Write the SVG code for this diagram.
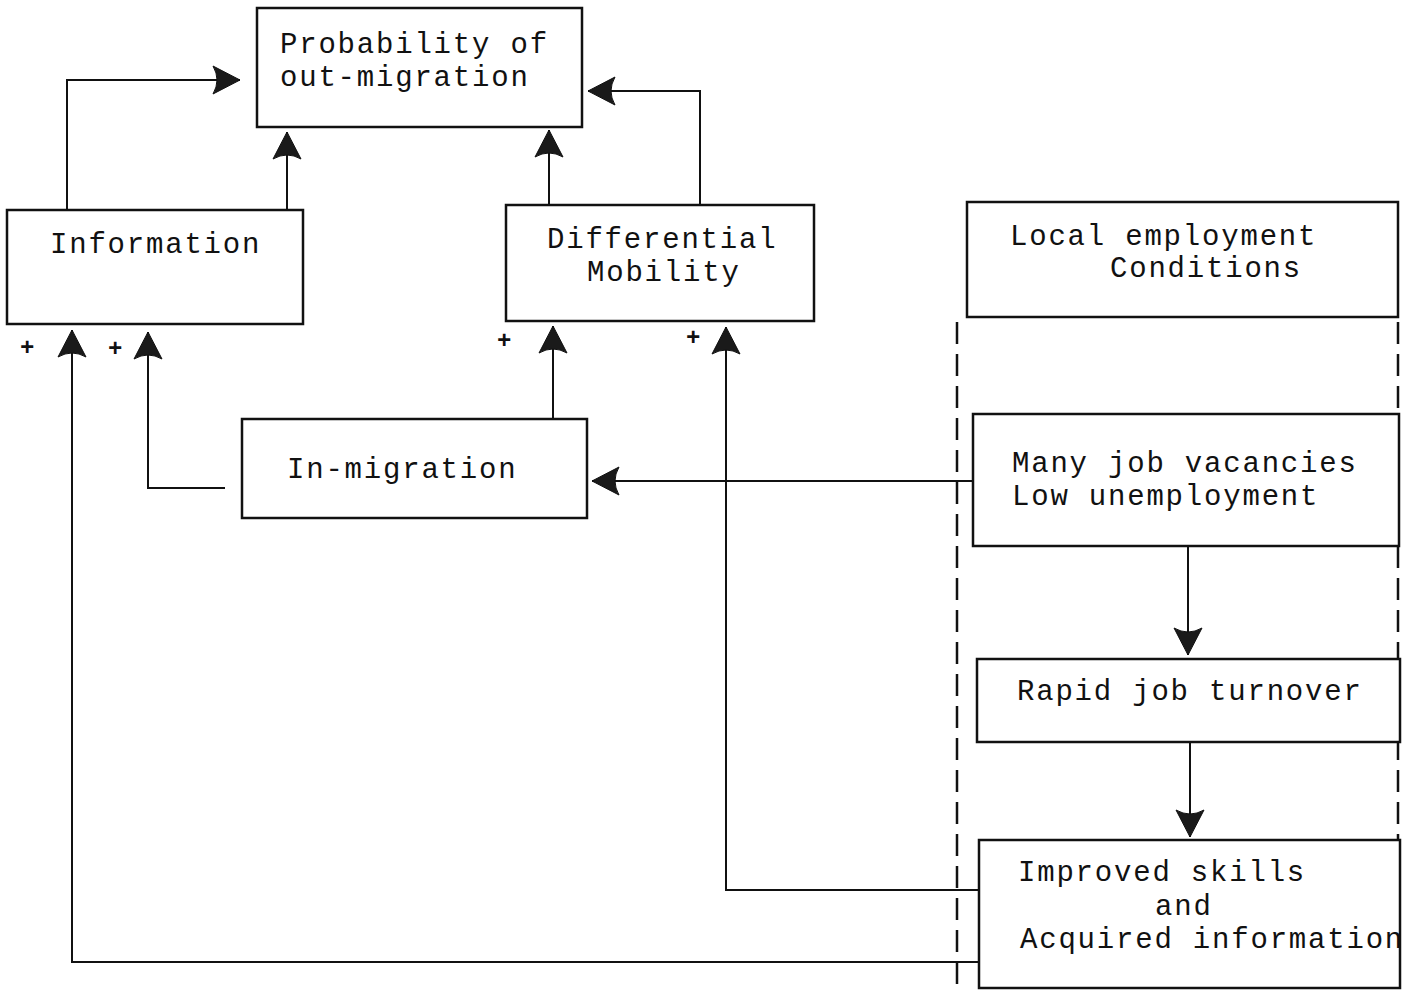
<svg xmlns="http://www.w3.org/2000/svg" width="1405" height="991" viewBox="0 0 1405 991">
<style>
.box{fill:#fff;stroke:#111;stroke-width:2.5}
.t{font-family:"Liberation Mono","Courier New",monospace;font-size:29px;letter-spacing:1.8px;fill:#111}
.c{fill:none;stroke:#111;stroke-width:2}
.d{fill:none;stroke:#111;stroke-width:2.5;stroke-dasharray:22 10}
.p{font-family:"Liberation Mono","Courier New",monospace;font-size:24px;font-weight:bold;fill:#111}
</style>
<defs>
<marker id="ah" markerUnits="userSpaceOnUse" markerWidth="32" markerHeight="32" viewBox="-30 -16 32 32" refX="0" refY="0" orient="auto">
<path d="M0,0 L-27,-14 Q-19,0 -27,14 Z" fill="#1a1a1a" stroke="#111" stroke-width="1"/>
</marker>
</defs>
<rect width="1405" height="991" fill="#fff"/>
<g id="connectors">
<path class="c" d="M67,210 V80 H240" marker-end="url(#ah)"/>
<path class="c" d="M287,210 V132" marker-end="url(#ah)"/>
<path class="c" d="M549,205 V130" marker-end="url(#ah)"/>
<path class="c" d="M700,205 V91 H588" marker-end="url(#ah)"/>
<path class="c" d="M553,419 V326" marker-end="url(#ah)"/>
<path class="c" d="M225,488 H148 V332" marker-end="url(#ah)"/>
<path class="c" d="M973,481 H592" marker-end="url(#ah)"/>
<path class="c" d="M1188,546 V655" marker-end="url(#ah)"/>
<path class="c" d="M1190,742 V837" marker-end="url(#ah)"/>
<path class="c" d="M979,890 H726 V327" marker-end="url(#ah)"/>
<path class="c" d="M979,962 H72 V330" marker-end="url(#ah)"/>
<path class="d" d="M957,322 V991"/>
<path class="d" d="M1398,322 V991"/>
<text class="p" x="20" y="355">+</text>
<text class="p" x="108" y="356">+</text>
<text class="p" x="497" y="348">+</text>
<text class="p" x="686" y="345">+</text>
</g>
<g id="n-prob">
<rect class="box" x="257" y="8" width="325" height="119"/>
<text class="t" x="280" y="53">Probability of</text>
<text class="t" x="280" y="86">out-migration</text>
</g>
<g id="n-info">
<rect class="box" x="7" y="210" width="296" height="114"/>
<text class="t" x="50" y="253">Information</text>
</g>
<g id="n-diff">
<rect class="box" x="506" y="205" width="308" height="116"/>
<text class="t" x="547" y="248">Differential</text>
<text class="t" x="587" y="281">Mobility</text>
</g>
<g id="n-local">
<rect class="box" x="967" y="202" width="431" height="115"/>
<text class="t" x="1010" y="245">Local employment</text>
<text class="t" x="1110" y="277">Conditions</text>
</g>
<g id="n-inmig">
<rect class="box" x="242" y="419" width="345" height="99"/>
<text class="t" x="287" y="478">In-migration</text>
</g>
<g id="n-many">
<rect class="box" x="973" y="414" width="426" height="132"/>
<text class="t" x="1012" y="472">Many job vacancies</text>
<text class="t" x="1012" y="505">Low unemployment</text>
</g>
<g id="n-rapid">
<rect class="box" x="977" y="659" width="423" height="83"/>
<text class="t" x="1017" y="700">Rapid job turnover</text>
</g>
<g id="n-improved">
<rect class="box" x="979" y="840" width="421" height="148"/>
<text class="t" x="1018" y="881">Improved skills</text>
<text class="t" x="1155" y="915">and</text>
<text class="t" x="1020" y="948">Acquired information</text>
</g>
</svg>
